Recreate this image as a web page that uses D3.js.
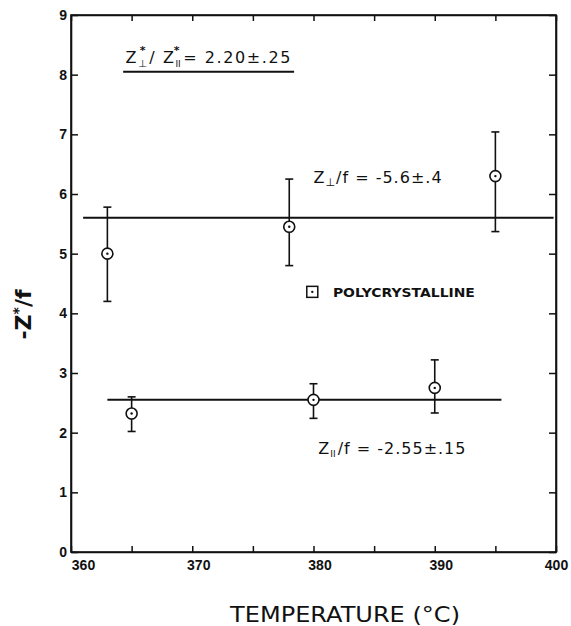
<!DOCTYPE html>
<html>
<head>
<meta charset="utf-8">
<script src="https://cdn.jsdelivr.net/npm/d3@7"></script>
<style>
  body { margin: 0; background: #fff; }
  svg text { fill: #111; }
</style>
</head>
<body>
<script>
// data
var temps = [363, 378, 395];           // perpendicular series
var perpVal = [5.0, 5.45, 6.3];
var perpLow = [4.2, 4.8, 5.37];
var perpHigh = [5.78, 6.25, 7.04];

var tempsPar = [365, 380, 390];        // parallel series
var parVal = [2.32, 2.55, 2.75];
var parLow = [2.02, 2.24, 2.33];
var parHigh = [2.6, 2.82, 3.22];

var fitPerp = 5.6, fitPerpRange = [361, 399.8];
var fitPar = 2.55, fitParRange = [363, 395.5];

var xTicks = [360, 365, 370, 375, 380, 385, 390, 395, 400];
var xLabels = [360, 370, 380, 390, 400];
var yTicks = [0, 1, 2, 3, 4, 5, 6, 7, 8, 9];

var W = 571, H = 626;
var margin = {top: 15, right: 15, bottom: 74, left: 71};

var svg = d3.select("body").append("svg")
  .attr("width", W).attr("height", H)
  .style("font-family", "'DejaVu Sans', sans-serif");

var x = d3.scaleLinear().domain([360, 400]).range([margin.left, W - margin.right]);
var y = d3.scaleLinear().domain([0, 9]).range([H - margin.bottom, margin.top]);

// frame
svg.append("rect")
  .attr("x", x(360)).attr("y", y(9))
  .attr("width", x(400) - x(360)).attr("height", y(0) - y(9))
  .attr("fill", "none").attr("stroke", "#111").attr("stroke-width", 1.6);

// bottom axis
var gx = svg.append("g")
  .attr("transform", "translate(0," + y(0) + ")")
  .call(d3.axisBottom(x).tickValues(xTicks).tickSize(-6).tickSizeOuter(0).tickPadding(8)
    .tickFormat(function (d) { return xLabels.indexOf(d) >= 0 ? d : ""; }));
gx.selectAll("text")
  .attr("dx", function (d) { return d === 360 ? 12 : (d === 400 ? 0 : 6); })
  .style("font-size", "14px").style("font-weight", "bold");

// top axis
svg.append("g")
  .attr("transform", "translate(0," + y(9) + ")")
  .call(d3.axisTop(x).tickValues(xTicks).tickSize(-6).tickSizeOuter(0).tickFormat(""));

// left axis
var gy = svg.append("g")
  .attr("transform", "translate(" + x(360) + ",0)")
  .call(d3.axisLeft(y).tickValues(yTicks).tickSize(-7).tickSizeOuter(0).tickPadding(4));
gy.selectAll("text")
  .style("font-size", "14px").style("font-weight", "bold");

// right axis
svg.append("g")
  .attr("transform", "translate(" + x(400) + ",0)")
  .call(d3.axisRight(y).tickValues(yTicks).tickSize(-7).tickSizeOuter(0).tickFormat(""));

svg.selectAll(".domain").attr("stroke", "#111").attr("stroke-width", 1.6);
svg.selectAll(".tick line").attr("stroke", "#111").attr("stroke-width", 1.5);

// fit lines
svg.append("line")
  .attr("x1", x(fitPerpRange[0])).attr("x2", x(fitPerpRange[1]))
  .attr("y1", y(fitPerp)).attr("y2", y(fitPerp))
  .attr("stroke", "#111").attr("stroke-width", 2);
svg.append("line")
  .attr("x1", x(fitParRange[0])).attr("x2", x(fitParRange[1]))
  .attr("y1", y(fitPar)).attr("y2", y(fitPar))
  .attr("stroke", "#111").attr("stroke-width", 2);

function drawSeries(xs, vals, lows, highs) {
  var data = xs.map(function (t, i) {
    return {t: t, v: vals[i], lo: lows[i], hi: highs[i]};
  });
  var g = svg.append("g").attr("stroke", "#111").attr("stroke-width", 1.6);
  var pts = g.selectAll("g.pt").data(data).enter().append("g").attr("class", "pt");
  pts.append("line")
    .attr("x1", function (d) { return x(d.t); }).attr("x2", function (d) { return x(d.t); })
    .attr("y1", function (d) { return y(d.hi); }).attr("y2", function (d) { return y(d.lo); });
  pts.append("line")
    .attr("x1", function (d) { return x(d.t) - 4; }).attr("x2", function (d) { return x(d.t) + 4; })
    .attr("y1", function (d) { return y(d.hi); }).attr("y2", function (d) { return y(d.hi); });
  pts.append("line")
    .attr("x1", function (d) { return x(d.t) - 4; }).attr("x2", function (d) { return x(d.t) + 4; })
    .attr("y1", function (d) { return y(d.lo); }).attr("y2", function (d) { return y(d.lo); });
  pts.append("circle")
    .attr("cx", function (d) { return x(d.t); }).attr("cy", function (d) { return y(d.v); })
    .attr("r", 5.5).attr("fill", "#fff");
  pts.append("circle")
    .attr("cx", function (d) { return x(d.t); }).attr("cy", function (d) { return y(d.v); })
    .attr("r", 1.2).attr("fill", "#111").attr("stroke", "none");
}
drawSeries(temps, perpVal, perpLow, perpHigh);
drawSeries(tempsPar, parVal, parLow, parHigh);

// annotation: ratio (Z-perp* / Z-par*)
var t1 = svg.append("text")
  .attr("x", x(364.5)).attr("y", y(8.2))
  .style("font-size", "16px").style("letter-spacing", "1.6px");
t1.append("tspan").text("Z");
t1.append("tspan").attr("dy", 4).style("font-size", "10px").style("letter-spacing", "0px").text("⊥");
t1.append("tspan").attr("dx", -7).attr("dy", -13).style("font-size", "11px").style("font-weight", "bold").text("*");
t1.append("tspan").attr("dx", 2).attr("dy", 9).text("/ Z");
t1.append("tspan").attr("dy", 4).style("font-size", "9px").style("letter-spacing", "0px").text("II");
t1.append("tspan").attr("dx", -7).attr("dy", -13).style("font-size", "11px").style("font-weight", "bold").text("*");
t1.append("tspan").attr("dx", 2).attr("dy", 9).text("= 2.20±.25");
svg.append("line")
  .attr("x1", x(364.3)).attr("x2", x(378.4))
  .attr("y1", y(8.05)).attr("y2", y(8.05))
  .attr("stroke", "#111").attr("stroke-width", 2);

// annotation: perpendicular
var t2 = svg.append("text")
  .attr("x", x(380)).attr("y", y(6.18))
  .style("font-size", "16px").style("letter-spacing", "1px");
t2.append("tspan").text("Z");
t2.append("tspan").attr("dy", 3).style("font-size", "11px").text("⊥");
t2.append("tspan").attr("dy", -3).text("/f = -5.6±.4");

// annotation: parallel
var t3 = svg.append("text")
  .attr("x", x(380.4)).attr("y", y(1.64))
  .style("font-size", "16px").style("letter-spacing", "1px");
t3.append("tspan").text("Z");
t3.append("tspan").attr("dy", 3).style("font-size", "9px").style("letter-spacing", "0px").text("II");
t3.append("tspan").attr("dx", 2).attr("dy", -3).text("/f = -2.55±.15");

// legend
svg.append("rect")
  .attr("x", x(379.9) - 5.5).attr("y", y(4.36) - 5.5)
  .attr("width", 11).attr("height", 11)
  .attr("fill", "none").attr("stroke", "#111").attr("stroke-width", 1.5);
svg.append("circle")
  .attr("cx", x(379.9)).attr("cy", y(4.36)).attr("r", 1.2).attr("fill", "#111");
svg.append("text")
  .attr("x", x(381.6)).attr("y", y(4.36)).attr("dy", "0.36em")
  .style("font-size", "13px").style("font-weight", "bold")
  .attr("textLength", 142).attr("lengthAdjust", "spacingAndGlyphs")
  .text("POLYCRYSTALLINE");

// axis titles
var yt = svg.append("text")
  .attr("transform", "translate(31," + y(3.98) + ") rotate(-90)")
  .attr("text-anchor", "middle")
  .style("font-size", "22px").style("font-weight", "bold");
yt.append("tspan").text("-Z");
yt.append("tspan").attr("dy", -8).style("font-size", "14px").text("*");
yt.append("tspan").attr("dy", 8).text("/f");

svg.append("text")
  .attr("x", x(382.6)).attr("y", 622)
  .attr("text-anchor", "middle")
  .style("font-size", "21px")
  .attr("textLength", 230).attr("lengthAdjust", "spacingAndGlyphs")
  .text("TEMPERATURE (°C)");
</script>
</body>
</html>
